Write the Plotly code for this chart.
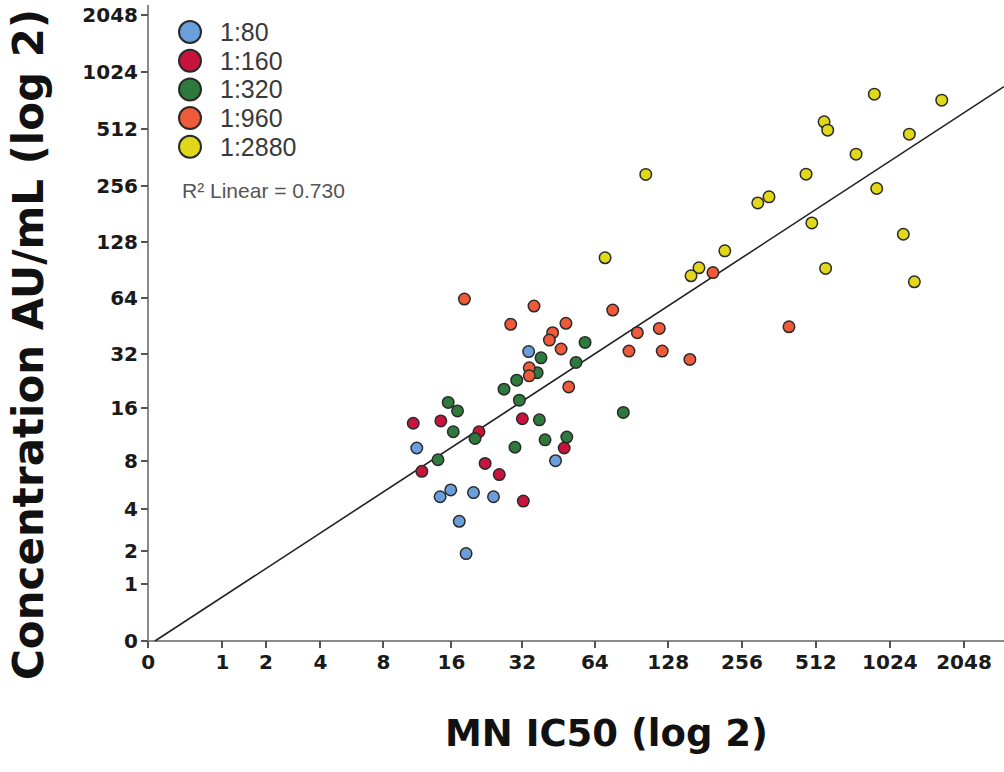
import numpy as np
import plotly.graph_objects as go

# ---------------- data ----------------
series_names = ["1:80", "1:160", "1:320", "1:960", "1:2880"]
series_colors = ["#6b9fdc", "#c8143c", "#2e7a3c", "#ee5a3a", "#e2d81a"]

# MN IC50 (x) and Concentration AU/mL (y) per dilution group
blue_x = [34, 11.3, 44, 14.3, 15.9, 19.9, 24.2, 17.3, 18.5]
blue_y = [33, 9.5, 8, 4.8, 5.3, 5.1, 4.8, 3.3, 1.9]

red_x = [10.9, 14.4, 11.9, 21, 22.3, 25.6, 32.3, 32, 47.8]
red_y = [13.2, 13.6, 6.9, 11.8, 7.7, 6.6, 4.5, 14, 9.5]

green_x = [38.3, 58.3, 53.5, 36.9, 30.3, 26.8, 31.1, 15.5, 17, 83.8, 37.7,
           16.3, 20.2, 29.8, 39.8, 49, 14]
green_y = [30.5, 37, 28.8, 25.3, 23, 20.5, 17.8, 17.3, 15.5, 15.2, 13.8,
           11.8, 10.8, 9.6, 10.6, 11, 8.1]

orange_x = [18.2, 35.8, 75.8, 28.6, 48.6, 42.8, 41.5, 46.4, 34.2, 34.2, 49.9,
            95.7, 117.7, 88.4, 121, 157, 195, 398]
orange_y = [63.5, 58.2, 55.4, 46.4, 47, 41.8, 38.1, 34.1, 26.9, 24.3, 21.1,
            41.8, 44.1, 33.2, 33.2, 29.9, 88, 45]

yellow_x = [103.6, 70.5, 297, 330, 218, 171, 158.7, 885, 1663, 553, 572, 1228,
            746, 467, 905, 493, 1161, 561, 1287]
yellow_y = [293.5, 105.6, 207, 223, 115, 93.4, 84.6, 782, 727, 558, 504, 480,
            376, 294.5, 247, 162, 141, 92.7, 78.6]

tick_values = [0, 1, 2, 4, 8, 16, 32, 64, 128, 256, 512, 1024, 2048]
tick_labels = [str(v) for v in tick_values]

x_title = "MN IC50 (log 2)"
y_title = "Concentration AU/mL (log 2)"
r2_label = "R² Linear = 0.730"

# ---------------- helpers ----------------
def f(v):
    """log2 scale that can show 0 (log2(v + 1))."""
    return np.log2(np.asarray(v, dtype=float) + 1.0)

W, H = 1004, 772
ML, MR, MT, MB = 141, 0, 5, 124
PW, PH = W - ML - MR, H - MT - MB
X_RANGE = [-0.0985, 11.54]
Y_RANGE = [-0.123, 11.18]

def px_x(p):
    return (p - ML) / PW

def px_y(p):
    return (H - MB - p) / PH

groups = [(blue_x, blue_y), (red_x, red_y), (green_x, green_y),
          (orange_x, orange_y), (yellow_x, yellow_y)]

fig = go.Figure()

# linear fit on the transformed scale
all_x = np.concatenate([f(g[0]) for g in groups])
all_y = np.concatenate([f(g[1]) for g in groups])
slope, intercept = np.polyfit(all_x, all_y, 1)
line_x = np.array([-intercept / slope, X_RANGE[1]])
fig.add_trace(go.Scatter(x=line_x, y=slope * line_x + intercept, mode="lines",
                         line=dict(color="#222222", width=1.6),
                         showlegend=False, hoverinfo="skip"))

for name, color, (xs, ys) in zip(series_names, series_colors, groups):
    fig.add_trace(go.Scatter(
        x=f(xs), y=f(ys), mode="markers", name=name,
        customdata=np.column_stack([xs, ys]),
        hovertemplate="MN IC50 %{customdata[0]}<br>AU/mL %{customdata[1]}<extra>" + name + "</extra>",
        marker=dict(size=11.5, color=color, line=dict(color="#2a2a2a", width=1.5)),
        showlegend=False))

# legend drawn as circles + labels
for i, (name, color) in enumerate(zip(series_names, series_colors)):
    cy = 32 + i * 28.7
    fig.add_shape(type="circle", xref="paper", yref="paper",
                  xsizemode="pixel", ysizemode="pixel",
                  xanchor=px_x(190), yanchor=px_y(cy),
                  x0=-11, x1=11, y0=-11, y1=11,
                  fillcolor=color, line=dict(color="#2a2a2a", width=2))
    fig.add_annotation(xref="paper", yref="paper", x=px_x(218), y=px_y(cy),
                       xanchor="left", yanchor="middle", showarrow=False,
                       text=name, font=dict(family="Liberation Sans", size=25, color="#3a3a3a"))

fig.add_annotation(xref="paper", yref="paper", x=px_x(180), y=px_y(190),
                   xanchor="left", yanchor="middle", showarrow=False,
                   text=r2_label, font=dict(family="Liberation Sans", size=21, color="#555555"))

# axis titles
fig.add_annotation(xref="paper", yref="paper", x=px_x(606), y=px_y(733),
                   xanchor="center", yanchor="middle", showarrow=False,
                   text=x_title, font=dict(family="DejaVu Sans", size=37, color="#111111", weight="bold"))
fig.add_annotation(xref="paper", yref="paper", x=px_x(29), y=px_y(345),
                   xanchor="center", yanchor="middle", showarrow=False, textangle=-90,
                   text=y_title, font=dict(family="DejaVu Sans", size=42, color="#111111", weight="bold"))

axis_common = dict(
    tickvals=f(tick_values), ticktext=tick_labels,
    showgrid=False, showline=False,
    zeroline=True, zerolinecolor="#8a8a8a", zerolinewidth=2.2,
    ticks="inside", ticklen=7, tickwidth=2, tickcolor="#555555",
    tickfont=dict(family="DejaVu Sans", size=20, color="#1a1a1a", weight="bold"),
    fixedrange=True,
)

fig.update_xaxes(range=X_RANGE, **axis_common)
fig.update_yaxes(range=Y_RANGE, ticklabelstandoff=2, **axis_common)

fig.update_layout(
    width=W, height=H,
    margin=dict(l=ML, r=MR, t=MT, b=MB, pad=0),
    paper_bgcolor="white", plot_bgcolor="white",
    showlegend=False,
)

fig.write_html("out.html")
